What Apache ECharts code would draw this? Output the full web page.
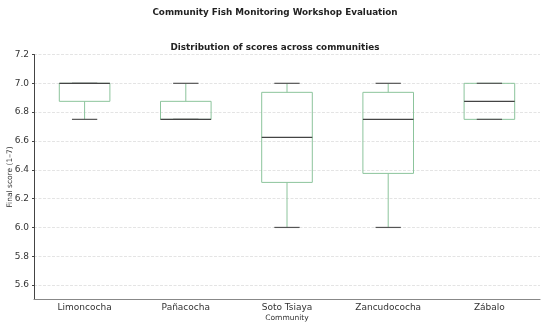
<!DOCTYPE html>
<html><head><meta charset="utf-8">
<script src="https://cdn.jsdelivr.net/npm/echarts@6/dist/echarts.min.js"></script>
<style>html,body{margin:0;padding:0;background:#fff}#c{width:550px;height:328px}</style>
</head><body><div id="c"></div>
<script>
var categories = ['Limoncocha', 'Pañacocha', 'Soto Tsiaya', 'Zancudococha', 'Zábalo'];
var whiskerLow = [6.75, 6.75, 6.0, 6.0, 6.75];
var quartile1 = [6.875, 6.75, 6.3125, 6.375, 6.75];
var medians = [7.0, 6.75, 6.625, 6.75, 6.875];
var quartile3 = [7.0, 6.875, 6.9375, 6.9375, 7.0];
var whiskerHigh = [7.0, 7.0, 7.0, 7.0, 7.0];
var yTicks = [5.6, 5.8, 6.0, 6.2, 6.4, 6.6, 6.8, 7.0, 7.2];

var data = categories.map(function (c, i) {
  return [i, whiskerLow[i], quartile1[i], medians[i], quartile3[i], whiskerHigh[i]];
});
var BOX = '#8cc49c', MED = '#444444', CAP = '#555555';
var chart = echarts.init(document.getElementById('c'));
chart.setOption({
  animation: false,
  title: [
    {text: 'Community Fish Monitoring Workshop Evaluation', left: 'center', top: 3,
     textStyle: {fontFamily: 'DejaVu Sans', fontSize: 8.8, fontWeight: 'bold', color: '#222'}},
    {text: 'Distribution of scores across communities', left: 'center', top: 38,
     textStyle: {fontFamily: 'DejaVu Sans', fontSize: 8.8, fontWeight: 'bold', color: '#222'}}
  ],
  grid: {left: 34, right: 10, top: 54.5, bottom: 28.5, containLabel: false, outerBoundsMode: 'none'},
  xAxis: {
    type: 'category', data: categories,
    name: 'Community', nameLocation: 'middle', nameGap: 15, nameMoveOverlap: false,
    nameTextStyle: {fontFamily: 'DejaVu Sans', fontSize: 7.5, color: '#333'},
    axisLine: {lineStyle: {color: '#888', width: 1.2}},
    axisTick: {alignWithLabel: true, length: 2, lineStyle: {color: '#888'}},
    axisLabel: {fontFamily: 'DejaVu Sans', fontSize: 9, color: '#333', margin: 4},
    splitLine: {show: false}
  },
  yAxis: {
    type: 'value', min: 5.5, max: 7.2, interval: 0.1,
    name: 'Final score (1–7)', nameLocation: 'middle', nameGap: 20, nameMoveOverlap: false,
    nameTextStyle: {fontFamily: 'DejaVu Sans', fontSize: 7.5, color: '#333'},
    axisLine: {show: true, lineStyle: {color: '#444'}},
    axisTick: {show: true, length: 2, lineStyle: {color: '#444'}, customValues: yTicks},
    axisLabel: {fontFamily: 'DejaVu Sans', fontSize: 9, color: '#333', margin: 5,
      customValues: yTicks,
      formatter: function (v) { return v.toFixed(1); }},
    splitLine: {show: true, lineStyle: {color: '#dddddd', type: [3, 1.5], width: 0.8}}
  },
  series: [{
    type: 'custom', data: data,
    encode: {x: 0, y: [1, 2, 3, 4, 5]},
    renderItem: function (params, api) {
      var x = api.value(0);
      var w = api.size([1, 0])[0] * 0.5;
      var pLow = api.coord([x, api.value(1)]);
      var pQ1 = api.coord([x, api.value(2)]);
      var pMed = api.coord([x, api.value(3)]);
      var pQ3 = api.coord([x, api.value(4)]);
      var pHigh = api.coord([x, api.value(5)]);
      var cx = pMed[0];
      var half = w / 2, capHalf = w / 4;
      var line = function (x1, y1, x2, y2, color, lw) {
        return {type: 'line', shape: {x1: x1, y1: y1, x2: x2, y2: y2},
          style: {stroke: color, lineWidth: lw || 1}};
      };
      return {type: 'group', children: [
        line(cx, pQ1[1], cx, pLow[1], BOX),
        line(cx, pQ3[1], cx, pHigh[1], BOX),
        {type: 'rect', shape: {x: cx - half, y: pQ3[1], width: w, height: pQ1[1] - pQ3[1]},
          style: {fill: 'none', stroke: BOX, lineWidth: 1}},
        line(cx - capHalf, pLow[1], cx + capHalf, pLow[1], CAP, 1.2),
        line(cx - capHalf, pHigh[1], cx + capHalf, pHigh[1], CAP, 1.2),
        line(cx - half, pMed[1], cx + half, pMed[1], MED, 1.2)
      ]};
    }
  }]
});
</script></body></html>
